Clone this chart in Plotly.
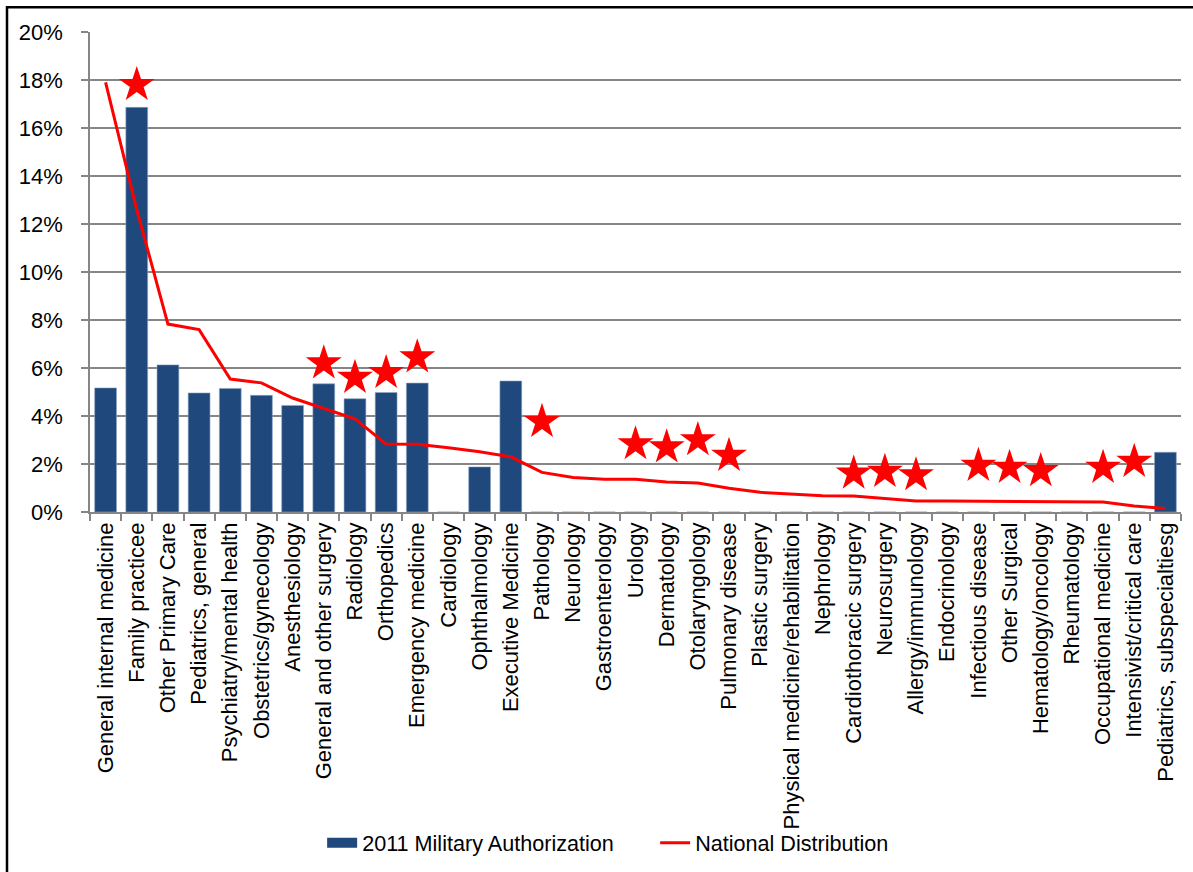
import plotly.graph_objects as go

categories = [
    "General internal medicine", "Family practicee", "Other Primary Care",
    "Pediatrics, general", "Psychiatry/mental health", "Obstetrics/gynecology",
    "Anesthesiology", "General and other surgery", "Radiology", "Orthopedics",
    "Emergency medicine", "Cardiology", "Ophthalmology", "Executive Medicine",
    "Pathology", "Neurology", "Gastroenterology", "Urology", "Dermatology",
    "Otolaryngology", "Pulmonary disease", "Plastic surgery",
    "Physical medicine/rehabilitation", "Nephrology", "Cardiothoracic surgery",
    "Neurosurgery", "Allergy/immunology", "Endocrinology", "Infectious disease",
    "Other Surgical", "Hematology/oncology", "Rheumatology",
    "Occupational medicine", "Intensivist/critical care",
    "Pediatrics, subspecialtiesg",
]

military_2011 = [5.17, 16.86, 6.13, 4.96, 5.15, 4.86, 4.44, 5.34, 4.72, 4.98,
                 5.37, 0, 1.88, 5.46, 0, 0, 0, 0, 0, 0,
                 0, 0, 0, 0, 0, 0, 0, 0, 0, 0,
                 0, 0, 0, 0, 2.49]

national = [17.9, 12.6, 7.83, 7.6, 5.54, 5.38, 4.75, 4.3, 3.88, 2.83,
            2.82, 2.68, 2.51, 2.3, 1.65, 1.44, 1.36, 1.36, 1.25, 1.21,
            0.99, 0.82, 0.74, 0.68, 0.67, 0.57, 0.46, 0.46, 0.45, 0.44,
            0.42, 0.42, 0.42, 0.25, 0.15]

star_categories = [
    "Family practicee", "General and other surgery", "Radiology", "Orthopedics",
    "Emergency medicine", "Pathology", "Urology", "Dermatology",
    "Otolaryngology", "Pulmonary disease", "Cardiothoracic surgery",
    "Neurosurgery", "Allergy/immunology", "Infectious disease",
    "Other Surgical", "Hematology/oncology", "Occupational medicine",
    "Intensivist/critical care",
]
star_values = [17.8, 6.2, 5.6, 5.8, 6.45, 3.76, 2.83, 2.7, 3.0, 2.35,
               1.61, 1.68, 1.54, 1.93, 1.85, 1.71, 1.85, 2.1]

y_ticks = [0, 2, 4, 6, 8, 10, 12, 14, 16, 18, 20]
y_tick_text = [f"{v}%" for v in y_ticks]

BLUE = "#1F497D"
RED = "#FF0000"
GRID = "#868686"
FONT = "Liberation Sans, Arial, sans-serif"

fig = go.Figure()

fig.add_trace(go.Bar(
    x=categories, y=military_2011, name="2011 Military Authorization",
    marker=dict(color=BLUE, line=dict(color="#8EA6C4", width=0.6)),
    showlegend=False,
))
fig.add_trace(go.Scatter(
    x=categories, y=national, mode="lines", name="National Distribution",
    line=dict(color=RED, width=3), showlegend=False,
))
fig.add_trace(go.Scatter(
    x=star_categories, y=star_values, mode="markers", name="stars",
    marker=dict(symbol="star", size=27, color=RED, line=dict(width=0)),
    showlegend=False,
))
# legend entries
fig.add_trace(go.Scatter(
    x=[None], y=[None], mode="lines", name="2011 Military Authorization",
    line=dict(color=BLUE, width=12),
))
fig.add_trace(go.Scatter(
    x=[None], y=[None], mode="lines", name="National Distribution",
    line=dict(color=RED, width=3),
))

fig.update_layout(
    width=1193, height=872,
    margin=dict(l=90, r=12, t=32, b=360, autoexpand=False),
    paper_bgcolor="white", plot_bgcolor="white",
    font=dict(family=FONT, color="black", size=21),
    bargap=0.3,
    legend=dict(
        orientation="h", x=0.518, xanchor="center", y=-0.69, yanchor="middle",
        font=dict(size=21.6, family=FONT), entrywidth=288, entrywidthmode="pixels",
        bgcolor="rgba(0,0,0,0)",
    ),
    xaxis=dict(
        type="category", categoryorder="array", categoryarray=categories,
        range=[-0.5, len(categories) - 0.5],
        tickangle=-90, tickson="boundaries", ticks="outside", ticklen=7,
        tickcolor=GRID, tickwidth=1.5, showline=True, linecolor=GRID, linewidth=1.5,
        showgrid=False, tickfont=dict(size=22, family=FONT), automargin=False,
    ),
    yaxis=dict(
        range=[0, 20], tickmode="array", tickvals=y_ticks, ticktext=y_tick_text,
        showgrid=True, gridcolor=GRID, gridwidth=1.5, zeroline=False, showline=True,
        linecolor=GRID, linewidth=1.5, ticks="outside", ticklen=7,
        tickcolor=GRID, tickwidth=1.5, tickfont=dict(size=22, family=FONT),
        ticklabelstandoff=14, automargin=False,
    ),
    shapes=[dict(
        type="rect", xref="paper", yref="paper",
        x0=(7 - 90) / 1091, x1=1.03, y0=-0.8, y1=1 + (32 - 7.3) / 480,
        line=dict(color="black", width=2.5), fillcolor="rgba(0,0,0,0)",
        layer="above",
    )],
)

fig.write_html(
    "out.html",
    config={"displayModeBar": False},
    post_script="document.body.style.margin='0';",
)
